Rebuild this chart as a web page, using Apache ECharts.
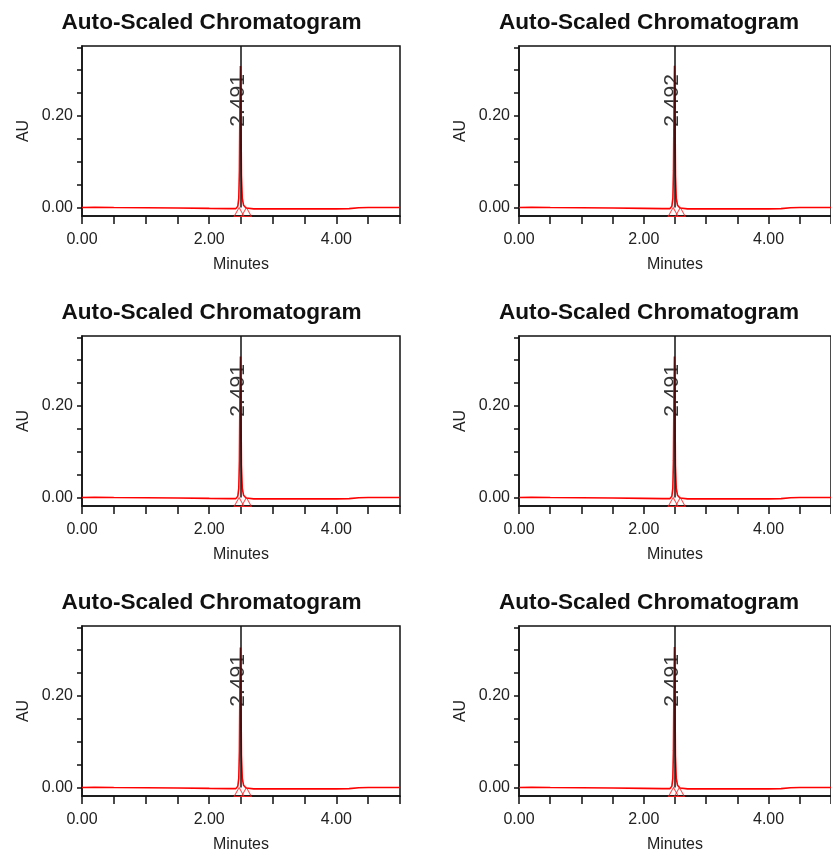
<!DOCTYPE html>
<html>
<head>
<meta charset="utf-8">
<script src="https://cdn.jsdelivr.net/npm/echarts@6/dist/echarts.min.js"></script>
<style>
html,body{margin:0;padding:0;background:#fff;}
#chart{width:831px;height:858px;}
</style>
</head>
<body>
<div id="chart"></div>
<script>
// ---- data ----
const panelTitles = ['Auto-Scaled Chromatogram','Auto-Scaled Chromatogram','Auto-Scaled Chromatogram','Auto-Scaled Chromatogram','Auto-Scaled Chromatogram','Auto-Scaled Chromatogram'];
const peakTimes = [2.491, 2.492, 2.491, 2.491, 2.491, 2.491];
const peakLabels = ['2.491', '2.492', '2.491', '2.491', '2.491', '2.491'];
const peakStarts = [2.47, 2.47, 2.47, 2.47, 2.47, 2.475];
const peakEnds = [2.585, 2.585, 2.585, 2.585, 2.585, 2.57];

const traceTimes   = [0, 0.2, 0.5, 1.0, 1.5, 2.0, 2.3, 2.42, 2.45, 2.465, 2.475, 2.483, 2.491, 2.499, 2.507, 2.52, 2.54, 2.58, 2.7, 3.0, 3.5, 4.0, 4.2, 4.35, 4.5, 5.0];
const traceTimesP2 = [0, 0.2, 0.5, 1.0, 1.5, 2.0, 2.3, 2.42, 2.45, 2.466, 2.476, 2.484, 2.492, 2.500, 2.508, 2.52, 2.54, 2.58, 2.7, 3.0, 3.5, 4.0, 4.2, 4.35, 4.5, 5.0];
const trace1 = [0.000, 0.0005, 0.000, -0.0005, -0.001, -0.002, -0.0025, -0.0025, 0.003, 0.02, 0.08, 0.22, 0.309, 0.20, 0.07, 0.02, 0.005, -0.001, -0.003, -0.003, -0.003, -0.003, -0.0025, -0.0005, 0.000, 0.000];
const trace2 = [0.000, 0.0005, 0.000, -0.0005, -0.001, -0.002, -0.0025, -0.0025, 0.003, 0.02, 0.08, 0.22, 0.310, 0.20, 0.07, 0.02, 0.005, -0.001, -0.003, -0.003, -0.003, -0.003, -0.0025, -0.0005, 0.000, 0.000];
const trace3 = [0.000, 0.0005, 0.000, -0.0005, -0.001, -0.002, -0.0025, -0.0025, 0.003, 0.02, 0.08, 0.22, 0.308, 0.20, 0.07, 0.02, 0.005, -0.001, -0.003, -0.003, -0.003, -0.003, -0.0025, -0.0005, 0.000, 0.000];
const trace4 = [0.000, 0.0005, 0.000, -0.0005, -0.001, -0.002, -0.0025, -0.0025, 0.003, 0.02, 0.08, 0.22, 0.308, 0.20, 0.07, 0.02, 0.005, -0.001, -0.003, -0.003, -0.003, -0.003, -0.0025, -0.0005, 0.000, 0.000];
const trace5 = [0.000, 0.0005, 0.000, -0.0005, -0.001, -0.002, -0.0025, -0.0025, 0.003, 0.02, 0.08, 0.22, 0.306, 0.20, 0.07, 0.02, 0.005, -0.001, -0.003, -0.003, -0.003, -0.003, -0.0025, -0.0005, 0.000, 0.000];
const trace6 = [0.000, 0.0005, 0.000, -0.0005, -0.001, -0.002, -0.0025, -0.0025, 0.003, 0.02, 0.08, 0.22, 0.307, 0.20, 0.07, 0.02, 0.005, -0.001, -0.003, -0.003, -0.003, -0.003, -0.0025, -0.0005, 0.000, 0.000];
const traceValues = [trace1, trace2, trace3, trace4, trace5, trace6];
const traceTimeSets = [traceTimes, traceTimesP2, traceTimes, traceTimes, traceTimes, traceTimes];

const xTickValues = [0, 0.5, 1.0, 1.5, 2.0, 2.5, 3.0, 3.5, 4.0, 4.5, 5.0];
const xLabelValues = [0, 2, 4];
const yTickValues = [0, 0.05, 0.10, 0.15, 0.20, 0.25, 0.30, 0.35];
const yLabelValues = [0, 0.20];
const xRange = [0, 5];
const yRange = [-0.0186, 0.353];
const xName = 'Minutes';
const yName = 'AU';

// ---- layout ----
const colLeft = [82, 519];
const colTitleCenter = [206.5, 644];
const rowTop = [46, 336, 626];
const gridW = 318, gridH = 170;
const FONT = '"Liberation Sans", Arial, sans-serif';
const INK = '#111';

const option = {
  animation: false,
  backgroundColor: '#fff',
  title: [], grid: [], xAxis: [], yAxis: [], series: []
};

for (let i = 0; i < 6; i++) {
  const col = i % 2, row = Math.floor(i / 2);
  option.title.push({
    text: panelTitles[i],
    left: colTitleCenter[col], top: rowTop[row] - 40,
    textAlign: 'center',
    textStyle: {fontFamily: FONT, fontWeight: 'bold', fontSize: 22.6, color: '#111'}
  });
  option.grid.push({
    left: colLeft[col], top: rowTop[row], width: gridW, height: gridH,
    show: true, borderColor: INK, borderWidth: 1.5, backgroundColor: 'transparent'
  });
  option.xAxis.push({
    type: 'value', gridIndex: i, min: xRange[0], max: xRange[1],
    name: xName, nameLocation: 'middle', nameGap: 41,
    nameTextStyle: {fontFamily: FONT, fontSize: 16, color: '#222'},
    axisLine: {show: true, onZero: false, lineStyle: {color: INK, width: 1.5}},
    axisTick: {show: true, length: 8, customValues: xTickValues, lineStyle: {color: INK, width: 1.5}},
    axisLabel: {show: true, customValues: xLabelValues, margin: 16,
      fontFamily: FONT, fontSize: 16, color: '#222',
      formatter: v => v.toFixed(2)},
    splitLine: {show: false}
  });
  option.yAxis.push({
    type: 'value', gridIndex: i, min: yRange[0], max: yRange[1],
    name: yName, nameLocation: 'middle', nameGap: 50,
    nameTextStyle: {fontFamily: FONT, fontSize: 16, color: '#222'},
    axisLine: {show: true, onZero: false, lineStyle: {color: INK, width: 1.5}},
    axisTick: {show: true, length: 5, customValues: yTickValues, lineStyle: {color: INK, width: 1.5}},
    axisLabel: {show: true, customValues: yLabelValues, margin: 9, padding: [3, 0, 0, 0],
      fontFamily: FONT, fontSize: 16, color: '#222',
      formatter: v => v.toFixed(2)},
    splitLine: {show: false}
  });
  // peak marker line + label (below trace)
  option.series.push({
    type: 'scatter', xAxisIndex: i, yAxisIndex: i, z: 1,
    symbolSize: 0, silent: true,
    data: [[peakTimes[i], 0.234]],
    label: {show: true, position: 'inside', rotate: 90, offset: [0, -2],
      formatter: peakLabels[i], fontFamily: FONT, fontSize: 21, color: '#000'},
    markLine: {
      silent: true, symbol: 'none', animation: false,
      label: {show: false},
      lineStyle: {color: '#111', width: 1.5, type: 'solid'},
      data: [[{coord: [peakTimes[i], 0]}, {coord: [peakTimes[i], yRange[1]]}]]
    }
  });
  // chromatogram trace
  const times = traceTimeSets[i];
  option.series.push({
    type: 'line', xAxisIndex: i, yAxisIndex: i, z: 3,
    showSymbol: false, symbol: 'none',
    lineStyle: {color: '#ff0000', width: 1.6},
    data: times.map((t, k) => [t, traceValues[i][k]])
  });
  // integration start / end markers
  option.series.push({
    type: 'scatter', xAxisIndex: i, yAxisIndex: i, z: 4,
    symbol: 'triangle', symbolSize: [10, 9], symbolOffset: [0, '50%'],
    itemStyle: {color: 'rgba(0,0,0,0)', borderColor: '#ff2020', borderWidth: 1},
    data: [[peakStarts[i], 0], [peakEnds[i], 0]]
  });
}

const chart = echarts.init(document.getElementById('chart'), null, {renderer: 'canvas'});
chart.setOption(option);
</script>
</body>
</html>
